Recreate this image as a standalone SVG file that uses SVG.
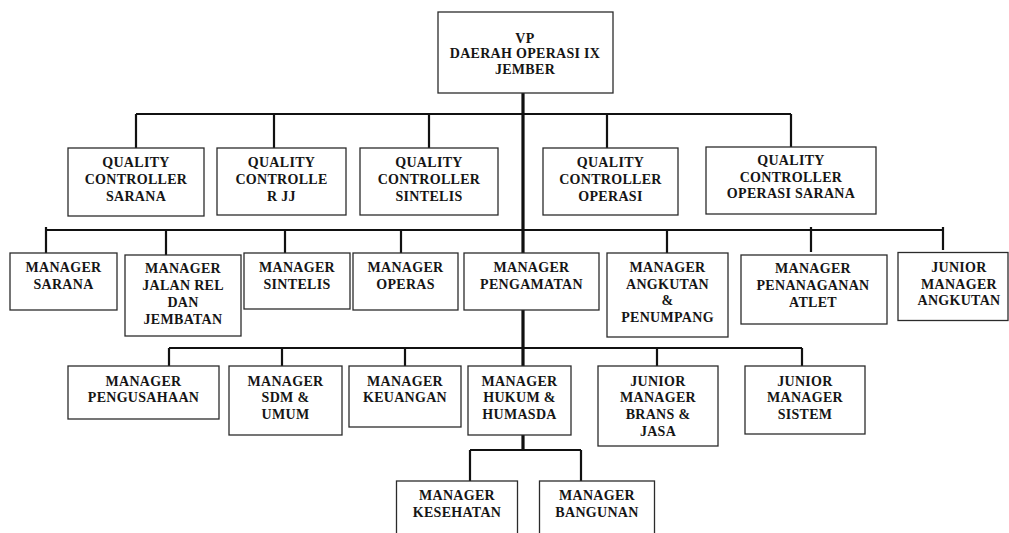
<svg xmlns="http://www.w3.org/2000/svg" width="1009" height="533" viewBox="0 0 1009 533">
<style>
.box{fill:#fff;stroke:#2b2b2b;stroke-width:1.3}
.t{font-family:"Liberation Serif","Times New Roman",serif;font-weight:bold;font-size:14px;fill:#151515;text-anchor:middle;letter-spacing:0.3px}
.c{fill:none;stroke:#111;stroke-width:2.2}
.trunk{fill:none;stroke:#111;stroke-width:3.2}
</style>
<rect width="1009" height="533" fill="#fff"/>
<g id="connectors">
<path class="trunk" d="M523 93V253M523 310V366M523 435V451"/>
<path class="c" d="M136 114H791M136 114V148M274 114V148M429 114V148M607 114V148M791 114V147"/>
<path class="c" d="M46 230H943M46 227V253M166 230V255M285 230V253M401 230V253M667 230V253M811 227V252M943 227V250"/>
<path class="c" d="M169 348H802M169 348V366M282 348V366M405 348V366M657 348V366M802 348V366"/>
<path class="c" d="M470 450H581M470 450V481M581 450V481"/>
</g>
<g id="vp"><rect class="box" x="438" y="12" width="175" height="81"/>
<text class="t" x="525" y="43"><tspan x="525">VP</tspan><tspan x="525" dy="15">DAERAH OPERASI IX</tspan><tspan x="525" dy="16">JEMBER</tspan></text></g>
<g id="qc-sarana"><rect class="box" x="68" y="148" width="136" height="68"/>
<text class="t" y="167"><tspan x="136">QUALITY</tspan><tspan x="136" dy="17">CONTROLLER</tspan><tspan x="136" dy="17">SARANA</tspan></text></g>
<g id="qc-rjj"><rect class="box" x="217" y="148" width="129" height="67"/>
<text class="t" y="167"><tspan x="281.5">QUALITY</tspan><tspan x="281.5" dy="17">CONTROLLE</tspan><tspan x="281.5" dy="17">R JJ</tspan></text></g>
<g id="qc-sintelis"><rect class="box" x="360" y="148" width="138" height="67"/>
<text class="t" y="167"><tspan x="429">QUALITY</tspan><tspan x="429" dy="17">CONTROLLER</tspan><tspan x="429" dy="17">SINTELIS</tspan></text></g>
<g id="qc-operasi"><rect class="box" x="543" y="148" width="135" height="67"/>
<text class="t" y="167"><tspan x="610.5">QUALITY</tspan><tspan x="610.5" dy="17">CONTROLLER</tspan><tspan x="610.5" dy="17">OPERASI</tspan></text></g>
<g id="qc-operasi-sarana"><rect class="box" x="706" y="147" width="170" height="67"/>
<text class="t" y="165"><tspan x="791">QUALITY</tspan><tspan x="791" dy="16.7">CONTROLLER</tspan><tspan x="791" dy="16.7">OPERASI SARANA</tspan></text></g>
<g id="m-sarana"><rect class="box" x="10" y="253" width="107" height="57"/>
<text class="t" y="272"><tspan x="63.5">MANAGER</tspan><tspan x="63.5" dy="16.7">SARANA</tspan></text></g>
<g id="m-jalan"><rect class="box" x="125" y="255" width="116" height="81"/>
<text class="t" y="273"><tspan x="183">MANAGER</tspan><tspan x="183" dy="17">JALAN REL</tspan><tspan x="183" dy="17">DAN</tspan><tspan x="183" dy="17">JEMBATAN</tspan></text></g>
<g id="m-sintelis"><rect class="box" x="244" y="253" width="106" height="56"/>
<text class="t" y="272"><tspan x="297">MANAGER</tspan><tspan x="297" dy="16.7">SINTELIS</tspan></text></g>
<g id="m-operas"><rect class="box" x="353" y="253" width="105" height="57"/>
<text class="t" y="272"><tspan x="405.5">MANAGER</tspan><tspan x="405.5" dy="16.7">OPERAS</tspan></text></g>
<g id="m-pengamatan"><rect class="box" x="464" y="253" width="135" height="57"/>
<text class="t" y="272"><tspan x="531.5">MANAGER</tspan><tspan x="531.5" dy="16.7">PENGAMATAN</tspan></text></g>
<g id="m-angkutan"><rect class="box" x="607" y="253" width="121" height="84"/>
<text class="t" y="272"><tspan x="667.5">MANAGER</tspan><tspan x="667.5" dy="16.7">ANGKUTAN</tspan><tspan x="667.5" dy="16.7">&amp;</tspan><tspan x="667.5" dy="17">PENUMPANG</tspan></text></g>
<g id="m-penanaganan"><rect class="box" x="741" y="255" width="146" height="69"/>
<text class="t" y="273"><tspan x="813">MANAGER</tspan><tspan x="813" dy="17">PENANAGANAN</tspan><tspan x="813" dy="17">ATLET</tspan></text></g>
<g id="jm-angkutan"><rect class="box" x="898" y="252.5" width="110" height="68"/>
<text class="t" y="272"><tspan x="959">JUNIOR</tspan><tspan x="959" dy="16.7">MANAGER</tspan><tspan x="959" dy="16.7">ANGKUTAN</tspan></text></g>
<g id="m-pengusahaan"><rect class="box" x="68" y="366" width="151" height="53"/>
<text class="t" y="385.5"><tspan x="143.5">MANAGER</tspan><tspan x="143.5" dy="16.7">PENGUSAHAAN</tspan></text></g>
<g id="m-sdm"><rect class="box" x="229" y="366" width="113" height="69"/>
<text class="t" y="385.5"><tspan x="285.5">MANAGER</tspan><tspan x="285.5" dy="16.7">SDM &amp;</tspan><tspan x="285.5" dy="16.7">UMUM</tspan></text></g>
<g id="m-keuangan"><rect class="box" x="349" y="366" width="112" height="61"/>
<text class="t" y="385.5"><tspan x="405">MANAGER</tspan><tspan x="405" dy="16.7">KEUANGAN</tspan></text></g>
<g id="m-hukum"><rect class="box" x="468" y="366" width="103" height="69"/>
<text class="t" y="385.5"><tspan x="519.5">MANAGER</tspan><tspan x="519.5" dy="16.7">HUKUM &amp;</tspan><tspan x="519.5" dy="16.7">HUMASDA</tspan></text></g>
<g id="jm-brans"><rect class="box" x="598" y="366" width="120" height="80"/>
<text class="t" y="385.5"><tspan x="658">JUNIOR</tspan><tspan x="658" dy="16.7">MANAGER</tspan><tspan x="658" dy="16.7">BRANS &amp;</tspan><tspan x="658" dy="16.7">JASA</tspan></text></g>
<g id="jm-sistem"><rect class="box" x="745" y="366" width="120" height="68"/>
<text class="t" y="385.5"><tspan x="805">JUNIOR</tspan><tspan x="805" dy="16.7">MANAGER</tspan><tspan x="805" dy="16.7">SISTEM</tspan></text></g>
<g id="m-kesehatan"><rect class="box" x="396.5" y="481" width="121" height="70"/>
<text class="t" y="500"><tspan x="457">MANAGER</tspan><tspan x="457" dy="16.7">KESEHATAN</tspan></text></g>
<g id="m-bangunan"><rect class="box" x="539.5" y="481" width="115" height="70"/>
<text class="t" y="500"><tspan x="597">MANAGER</tspan><tspan x="597" dy="16.7">BANGUNAN</tspan></text></g>
</svg>
